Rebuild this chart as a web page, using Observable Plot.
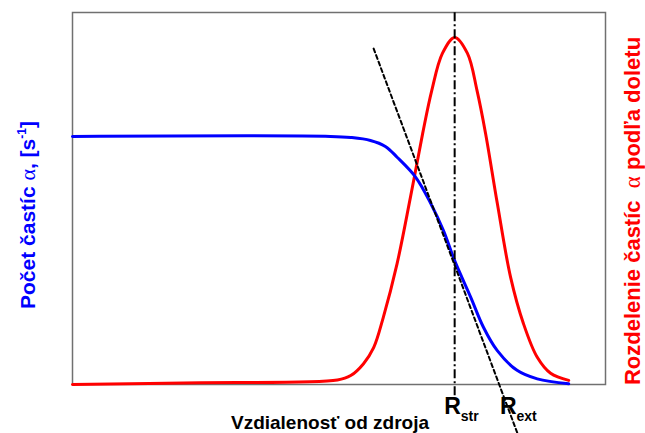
<!DOCTYPE html>
<html><head><meta charset="utf-8">
<script src="https://cdn.jsdelivr.net/npm/d3@7"></script>
<script src="https://cdn.jsdelivr.net/npm/@observablehq/plot@0.6"></script>
<style>body{margin:0;background:#fff} svg{display:block}</style>
</head><body><div id="chart"></div>
<script>
// Blue: count of alpha particles vs distance (arbitrary units 0..100)
const blueX = [0, 48.4, 52.2, 55.9, 58.7, 60.9, 64.4, 67.2, 69.6, 71.7, 74.7, 77.1, 79.7, 83.4, 87.2, 93.1];
const blueY = [66.7, 66.7, 66.4, 65.6, 64.0, 61.1, 55.7, 48.7, 41.4, 33.3, 23.5, 15.4, 9.1, 3.8, 1.5, 0.2];
// Red: range distribution of alpha particles
const redX = [0, 24.0, 49.7, 52.2, 54.6, 56.5, 58.3, 60.9, 63.4, 65.7, 67.4, 69.4, 71.7, 74.1, 75.9, 77.5, 79.7, 82.2, 84.6, 87.2, 89.7, 93.1];
const redY = [0, 0.5, 1.2, 2.4, 5.6, 9.9, 18.0, 32.5, 50.3, 67.5, 79.0, 89.0, 93.3, 89.0, 79.0, 67.5, 48.7, 28.8, 16.4, 7.3, 3.0, 1.1];
// Tangent line at the inflection point
const tangentX = [56.5, 83.5];
const tangentY = [90.3, -13.2];
// Characteristic ranges
const rStr = 71.7;
const rExt = 80.0;
const xTitle = "Vzdialenosť od zdroja";
const leftTitle = ["Počet častíc ", "α", ", [s", "-1", "]"];
const rightTitle = ["Rozdelenie častíc  ", "α", " podľa doletu"];
const rLabels = [{x: rStr, sub: "str", dx: -10}, {x: rExt, sub: "ext", dx: 1.5}];

const blue = blueX.map((x, i) => ({x, y: blueY[i]}));
const red = redX.map((x, i) => ({x, y: redY[i]}));
const tangent = tangentX.map((x, i) => ({x, y: tangentY[i]}));

const font = "'Liberation Sans', Arial, Helvetica, sans-serif";

const chart = Plot.plot({
  width: 645, height: 433,
  marginLeft: 72, marginRight: 40, marginTop: 12, marginBottom: 49,
  style: {fontFamily: font, background: "#fff", overflow: "visible"},
  x: {domain: [0, 100], axis: null},
  y: {domain: [0, 100], axis: null},
  marks: [
    Plot.frame({stroke: "#707070", strokeWidth: 1.5}),
    Plot.line(red, {x: "x", y: "y", stroke: "#ff0000", strokeWidth: 3, curve: "catmull-rom"}),
    Plot.line(blue, {x: "x", y: "y", stroke: "#0000ff", strokeWidth: 3, curve: "catmull-rom"}),
    Plot.line(tangent, {x: "x", y: "y", stroke: "black", strokeWidth: 2, strokeDasharray: "4,3"}),
    Plot.ruleX([rStr], {y1: -3, y2: 100, stroke: "black", strokeWidth: 2, strokeDasharray: "9,3,2,3"})
  ]
});
document.getElementById("chart").appendChild(chart);

const svg = d3.select(chart);
const xs = chart.scale("x");
const yBottom = 384;

// R labels
for (const r of rLabels) {
  const t = svg.append("text")
    .attr("x", xs.apply(r.x) + r.dx).attr("y", yBottom + 30)
    .attr("text-anchor", "start")
    .attr("font-family", font).attr("font-weight", "bold").attr("font-size", 23).attr("fill", "black");
  t.append("tspan").text("R");
  t.append("tspan").attr("dy", 7).attr("font-size", 14).text(r.sub);
}

// X title
svg.append("text")
  .attr("x", 330).attr("y", 429)
  .attr("text-anchor", "middle")
  .attr("font-family", font).attr("font-weight", "bold").attr("font-size", 19).attr("fill", "black")
  .text(xTitle);

// Left title
{
  const t = svg.append("text")
    .attr("transform", "translate(35,215) rotate(-90)")
    .attr("text-anchor", "middle")
    .attr("font-family", font).attr("font-weight", "bold").attr("font-size", 21).attr("fill", "#0000ff")
    .style("white-space", "pre");
  t.append("tspan").text(leftTitle[0]);
  t.append("tspan").attr("font-family", "'Liberation Serif', serif").attr("font-weight", "normal").attr("font-size", 22).text(leftTitle[1]);
  t.append("tspan").text(leftTitle[2]);
  t.append("tspan").attr("dy", -9).attr("font-size", 12).text(leftTitle[3]);
  t.append("tspan").attr("dy", 9).text(leftTitle[4]);
}

// Right title
{
  const t = svg.append("text")
    .attr("transform", "translate(640,211) rotate(-90)")
    .attr("text-anchor", "middle")
    .attr("font-family", font).attr("font-weight", "bold").attr("font-size", 22).attr("fill", "#ff0000")
    .style("white-space", "pre");
  t.append("tspan").text(rightTitle[0]);
  t.append("tspan").attr("font-family", "'Liberation Serif', serif").attr("font-weight", "normal").attr("font-size", 23).text(rightTitle[1]);
  t.append("tspan").text(rightTitle[2]);
}
</script>
</body></html>
